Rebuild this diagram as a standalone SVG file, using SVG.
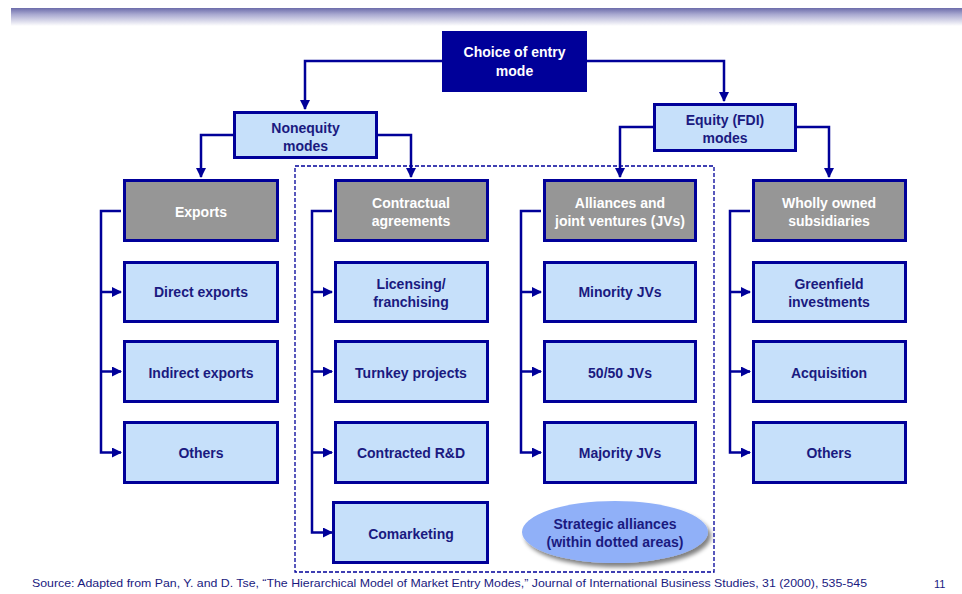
<svg xmlns="http://www.w3.org/2000/svg" width="962" height="594" viewBox="0 0 962 594">
<style>
.box{fill:#c6e0fa;stroke:#000099;stroke-width:3}
.head{fill:#969696;stroke:#000099;stroke-width:3}
.t{font-family:"Liberation Sans",Arial,sans-serif;font-weight:bold;font-size:14px;fill:#1a1a80;text-anchor:middle}
.w{fill:#ffffff}
.c{fill:none;stroke:#000099;stroke-width:2.5}
.foot{font-family:"Liberation Sans",Arial,sans-serif;font-size:11px;fill:#1a1a80}
</style>
<defs>
<linearGradient id="bar" x1="0" y1="0" x2="0" y2="1">
<stop offset="0" stop-color="#6c6caa"/>
<stop offset="0.35" stop-color="#a8a8d0"/>
<stop offset="1" stop-color="#ffffff"/>
</linearGradient>
<marker id="ah" viewBox="0 0 10 10" refX="9" refY="5" markerWidth="4" markerHeight="4" orient="auto" markerUnits="strokeWidth">
<path d="M0,0 L10,5 L0,10 z" fill="#000099"/>
</marker>
<filter id="sh" x="-20%" y="-20%" width="140%" height="150%">
<feGaussianBlur in="SourceAlpha" stdDeviation="2"/>
<feOffset dx="3" dy="4"/>
<feComponentTransfer><feFuncA type="linear" slope="0.5"/></feComponentTransfer>
<feMerge><feMergeNode/><feMergeNode in="SourceGraphic"/></feMerge>
</filter>
</defs>
<rect x="0" y="0" width="962" height="594" fill="#ffffff"/>
<rect x="11" y="8" width="951" height="18" fill="url(#bar)"/>

<g id="connectors">
<path class="c" d="M442,61 H305 V109" marker-end="url(#ah)"/>
<path class="c" d="M587,61 H724 V101" marker-end="url(#ah)"/>
<path class="c" d="M233,135 H201 V177" marker-end="url(#ah)"/>
<path class="c" d="M378,135 H411 V177" marker-end="url(#ah)"/>
<path class="c" d="M653,127 H620 V177" marker-end="url(#ah)"/>
<path class="c" d="M797,127 H829 V177" marker-end="url(#ah)"/>
<path class="c" d="M121,211 H101 V452.5 H121" marker-end="url(#ah)"/>
<path class="c" d="M101,292 H121" marker-end="url(#ah)"/>
<path class="c" d="M101,371.5 H121" marker-end="url(#ah)"/>
<path class="c" d="M332,211 H312 V532.5 H332" marker-end="url(#ah)"/>
<path class="c" d="M312,292 H332" marker-end="url(#ah)"/>
<path class="c" d="M312,371.5 H332" marker-end="url(#ah)"/>
<path class="c" d="M312,452.5 H332" marker-end="url(#ah)"/>
<path class="c" d="M541,211 H521 V452.5 H541" marker-end="url(#ah)"/>
<path class="c" d="M521,292 H541" marker-end="url(#ah)"/>
<path class="c" d="M521,371.5 H541" marker-end="url(#ah)"/>
<path class="c" d="M750,211 H730 V452.5 H750" marker-end="url(#ah)"/>
<path class="c" d="M730,292 H750" marker-end="url(#ah)"/>
<path class="c" d="M730,371.5 H750" marker-end="url(#ah)"/>
</g>

<rect id="dotted-area" x="295" y="166" width="419" height="406" fill="none" stroke="#000099" stroke-width="1.3" stroke-dasharray="4,2"/>

<g id="root">
<rect x="442" y="31" width="145" height="61" fill="#000099"/>
<text class="t w" x="514.5" y="57">Choice of entry</text>
<text class="t w" x="514.5" y="76">mode</text>
</g>
<g id="nonequity">
<rect class="box" x="234.5" y="112.5" width="142" height="45"/>
<text class="t" x="305.5" y="133">Nonequity</text>
<text class="t" x="305.5" y="151">modes</text>
</g>
<g id="equity">
<rect class="box" x="654.5" y="104.5" width="141" height="46"/>
<text class="t" x="725" y="125">Equity (FDI)</text>
<text class="t" x="725" y="143">modes</text>
</g>

<g id="exports">
<rect class="head" x="124.5" y="180.5" width="153" height="60"/>
<text class="t w" x="201" y="217">Exports</text>
</g>
<g id="direct-exports">
<rect class="box" x="124.5" y="262.5" width="153" height="59"/>
<text class="t" x="201" y="297">Direct exports</text>
</g>
<g id="indirect-exports">
<rect class="box" x="124.5" y="341.5" width="153" height="60"/>
<text class="t" x="201" y="378">Indirect exports</text>
</g>
<g id="exports-others">
<rect class="box" x="124.5" y="422.5" width="153" height="60"/>
<text class="t" x="201" y="458">Others</text>
</g>

<g id="contractual">
<rect class="head" x="335.5" y="180.5" width="152" height="60"/>
<text class="t w" x="411" y="208">Contractual</text>
<text class="t w" x="411" y="226">agreements</text>
</g>
<g id="licensing">
<rect class="box" x="335.5" y="262.5" width="152" height="59"/>
<text class="t" x="411" y="289">Licensing/</text>
<text class="t" x="411" y="307">franchising</text>
</g>
<g id="turnkey">
<rect class="box" x="335.5" y="341.5" width="152" height="60"/>
<text class="t" x="411" y="378">Turnkey projects</text>
</g>
<g id="contracted-rd">
<rect class="box" x="335.5" y="422.5" width="152" height="60"/>
<text class="t" x="411" y="458">Contracted R&amp;D</text>
</g>
<g id="comarketing">
<rect class="box" x="333.5" y="502.5" width="154" height="60"/>
<text class="t" x="411" y="539">Comarketing</text>
</g>

<g id="alliances">
<rect class="head" x="544.5" y="180.5" width="151" height="60"/>
<text class="t w" x="620" y="208">Alliances and</text>
<text class="t w" x="620" y="226">joint ventures (JVs)</text>
</g>
<g id="minority">
<rect class="box" x="544.5" y="262.5" width="151" height="59"/>
<text class="t" x="620" y="297">Minority JVs</text>
</g>
<g id="fifty">
<rect class="box" x="544.5" y="341.5" width="151" height="60"/>
<text class="t" x="620" y="378">50/50 JVs</text>
</g>
<g id="majority">
<rect class="box" x="544.5" y="422.5" width="151" height="60"/>
<text class="t" x="620" y="458">Majority JVs</text>
</g>

<g id="wholly">
<rect class="head" x="753.5" y="180.5" width="152" height="60"/>
<text class="t w" x="829" y="208">Wholly owned</text>
<text class="t w" x="829" y="226">subsidiaries</text>
</g>
<g id="greenfield">
<rect class="box" x="753.5" y="262.5" width="152" height="59"/>
<text class="t" x="829" y="289">Greenfield</text>
<text class="t" x="829" y="307">investments</text>
</g>
<g id="acquisition">
<rect class="box" x="753.5" y="341.5" width="152" height="60"/>
<text class="t" x="829" y="378">Acquisition</text>
</g>
<g id="wholly-others">
<rect class="box" x="753.5" y="422.5" width="152" height="60"/>
<text class="t" x="829" y="458">Others</text>
</g>

<g id="strategic-alliances">
<ellipse cx="615" cy="532" rx="93" ry="31" fill="#90b0f8" filter="url(#sh)"/>
<text class="t" x="615" y="529">Strategic alliances</text>
<text class="t" x="615" y="547">(within dotted areas)</text>
</g>

<text class="foot" x="32" y="587" textLength="835" lengthAdjust="spacingAndGlyphs">Source: Adapted from Pan, Y. and D. Tse, “The Hierarchical Model of Market Entry Modes,” Journal of International Business Studies, 31 (2000), 535-545</text>
<text class="foot" x="934" y="588" font-size="12">11</text>
</svg>
